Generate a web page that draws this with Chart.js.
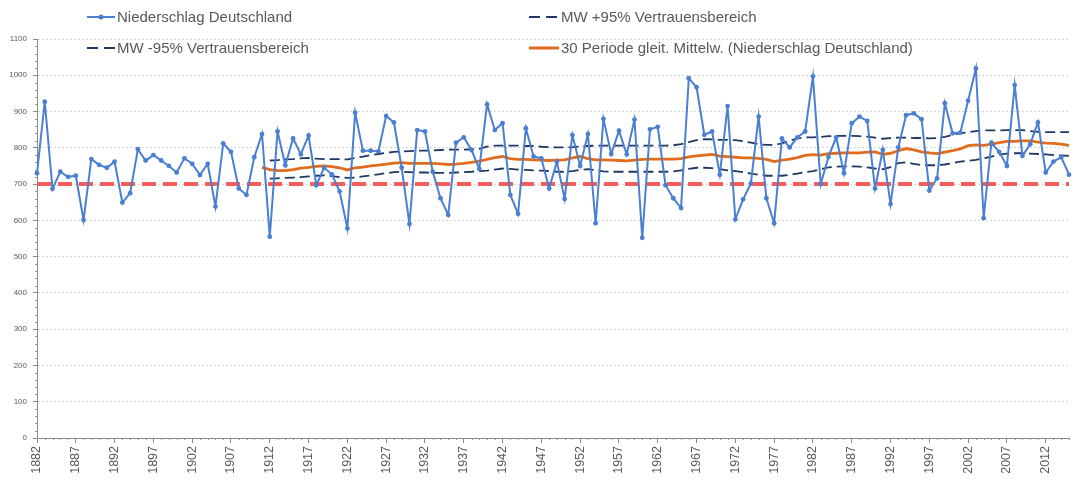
<!DOCTYPE html>
<html>
<head>
<meta charset="utf-8">
<script src="https://cdn.jsdelivr.net/npm/chart.js@4.4.1/dist/chart.umd.min.js"></script>
<style>
  body { margin: 0; background: #fff; }
  #wrap { position: relative; width: 1073px; height: 481px; }
  .leg {
    position: absolute; display: flex; align-items: center;
    font-family: "Liberation Sans", Arial, sans-serif; font-size: 15px;
    color: #595959; white-space: nowrap; line-height: 18px;
  }
  .leg svg { margin-right: 2px; }
</style>
</head>
<body>
<div id="wrap">
  <canvas id="chart"></canvas>
  <div class="leg" style="left:87px; top:8px;">
    <svg width="28" height="10"><line x1="0" y1="5" x2="28" y2="5" stroke="#4a7fd1" stroke-width="2"/><circle cx="14" cy="5" r="2.5" fill="#4a7fd1"/></svg>Niederschlag Deutschland
  </div>
  <div class="leg" style="left:529px; top:8px;">
    <svg width="30" height="10"><line x1="0" y1="5" x2="30" y2="5" stroke="#1f3864" stroke-width="2" stroke-dasharray="11,6"/></svg>MW +95% Vertrauensbereich
  </div>
  <div class="leg" style="left:87px; top:39px;">
    <svg width="28" height="10"><line x1="0" y1="5" x2="28" y2="5" stroke="#1f3864" stroke-width="2" stroke-dasharray="11,6"/></svg>MW -95% Vertrauensbereich
  </div>
  <div class="leg" style="left:529px; top:39px;">
    <svg width="30" height="10"><line x1="0" y1="5" x2="30" y2="5" stroke="#e06c1c" stroke-width="3"/></svg>30 Periode gleit. Mittelw. (Niederschlag Deutschland)
  </div>
</div>
<script>
// Jahre (Kategorien)
var years = [
  "1882","1883","1884","1885","1886","1887","1888","1889","1890","1891",
  "1892","1893","1894","1895","1896","1897","1898","1899","1900","1901",
  "1902","1903","1904","1905","1906","1907","1908","1909","1910","1911",
  "1912","1913","1914","1915","1916","1917","1918","1919","1920","1921",
  "1922","1923","1924","1925","1926","1927","1928","1929","1930","1931",
  "1932","1933","1934","1935","1936","1937","1938","1939","1940","1941",
  "1942","1943","1944","1945","1946","1947","1948","1949","1950","1951",
  "1952","1953","1954","1955","1956","1957","1958","1959","1960","1961",
  "1962","1963","1964","1965","1966","1967","1968","1969","1970","1971",
  "1972","1973","1974","1975","1976","1977","1978","1979","1980","1981",
  "1982","1983","1984","1985","1986","1987","1988","1989","1990","1991",
  "1992","1993","1994","1995","1996","1997","1998","1999","2000","2001",
  "2002","2003","2004","2005","2006","2007","2008","2009","2010","2011",
  "2012","2013","2014","2015"
];

// Niederschlag Deutschland (mm)
var niederschlag = [
  730, 927, 687, 734, 720, 723, 601, 769, 753, 745,
  762, 649, 675, 796, 765, 780, 765, 750, 732, 771,
  756, 725, 756, 638, 812, 789, 688, 670, 774, 838,
  555, 845, 752, 826, 782, 834, 697, 745, 727, 680,
  578, 897, 792, 792, 790, 888, 870, 745, 590, 849,
  845, 734, 661, 615, 814, 829, 794, 742, 920, 849,
  868, 670, 618, 854, 776, 771, 688, 762, 659, 835,
  750, 838, 592, 880, 783, 847, 782, 878, 552, 851,
  858, 697, 661, 634, 992, 967, 836, 845, 726, 915,
  603, 658, 702, 886, 661, 592, 826, 801, 829, 845,
  997, 700, 775, 829, 730, 868, 886, 874, 688, 794,
  645, 801, 890, 895, 879, 682, 716, 923, 840, 842,
  930, 1019, 606, 814, 789, 750, 973, 778, 810, 870,
  732, 762, 774, 726
];

// 30 Perioden gleitender Mittelwert, ab 1911
var maStartYear = 1911;
var gleitMittel = [
  746, 740, 737, 737, 740, 744, 746, 749, 750, 748,
  745, 739, 745, 747, 750, 752, 755, 758, 759, 757,
  757, 757, 757, 756, 754, 755, 757, 760, 763, 768,
  773, 776, 770, 768, 768, 767, 766, 765, 766, 767,
  772, 776, 770, 767, 767, 766, 765, 764, 766, 768,
  769, 769, 769, 769, 770, 775, 778, 780, 782, 777,
  776, 774, 772, 772, 771, 768, 762, 766, 769, 773,
  779, 781, 780, 784, 785, 786, 786, 786, 788, 789,
  782, 785, 792, 798, 794, 789, 786, 784, 788, 792,
  797, 806, 808, 807, 810, 814, 818, 818, 819, 819,
  816, 813, 812, 810, 807
];

// Vertrauensbereich, ab 1912
var bandStartYear = 1912;
var mwPlus95 = [
  765, 766, 768, 769, 771, 772, 770, 769, 769, 769, 768,
  772, 776, 780, 783, 786, 789,
  790, 791, 792, 792, 793, 794, 795, 795, 795, 796, 797,
  803, 806, 806, 806, 806, 805, 805, 803, 802, 801,
  801, 802, 804, 805, 806, 806, 806, 806, 806, 806, 806, 806, 806, 806, 807, 810,
  816, 821, 824, 823, 822, 822, 821,
  818, 814, 810, 808, 808, 812,
  820, 826, 829, 829,
  830, 832, 833, 833, 833, 832, 831,
  828, 825, 827, 828, 828,
  827, 827, 826, 827, 830, 836, 840,
  843, 846, 848, 848, 848, 849, 849, 849,
  846, 844, 843, 843, 843, 843
];
var mwMinus95 = [
  715, 716, 717, 718, 719, 721, 723, 724, 722, 719, 717,
  718, 721, 724, 727, 730, 733,
  734, 733, 732, 732, 731, 731, 731, 732, 733, 734, 736,
  737, 740, 743, 742, 740, 739, 738, 737, 736, 734,
  734, 736, 739, 741, 738, 735, 734, 734, 734, 734, 734, 734, 734, 734, 735, 738,
  742, 745, 745, 744, 741, 738, 736,
  733, 729, 726, 723, 723, 723,
  725, 729, 733, 736,
  741, 746, 748, 749, 749, 748, 746,
  743, 741, 747, 758, 760,
  756, 752, 752, 752, 754, 758, 762,
  764, 767, 771, 776, 781, 784, 785, 785,
  784, 783, 782, 780, 779, 778
];

var referenceLevel = 700;
var yTicks = [0, 1100, 100];

function fromYear(start, values) {
  return values.map(function (v, k) { return { x: String(start + k), y: v }; });
}

var refLine = {
  id: 'refLine',
  beforeDatasetsDraw: function (chart) {
    var ctx = chart.ctx, area = chart.chartArea;
    var py = chart.scales.y.getPixelForValue(referenceLevel);
    ctx.save();
    ctx.strokeStyle = '#f55d5d';
    ctx.lineWidth = 4;
    ctx.setLineDash([14, 7]);
    ctx.beginPath();
    ctx.moveTo(area.left, py);
    ctx.lineTo(area.right, py);
    ctx.stroke();
    ctx.restore();
  },
  afterDraw: function (chart) {
    // kleine Hilfsstriche an den Achsen
    var ctx = chart.ctx, x = chart.scales.x, y = chart.scales.y;
    ctx.save();
    ctx.strokeStyle = '#9a9a9a';
    ctx.lineWidth = 1;
    ctx.beginPath();
    for (var i = 0; i < years.length; i++) {
      if (i % 5 === 0) continue;
      var px = Math.round(x.getPixelForValue(i)) + 0.5;
      ctx.moveTo(px, y.bottom);
      ctx.lineTo(px, y.bottom + 2);
    }
    for (var v = 0; v <= yTicks[1]; v += 20) {
      if (v % 100 === 0) continue;
      var py = Math.round(y.getPixelForValue(v)) + 0.5;
      ctx.moveTo(x.left - 2, py);
      ctx.lineTo(x.left, py);
    }
    ctx.stroke();
    ctx.restore();
  }
};

var ctxL = document.getElementById('chart').getContext('2d');
var chart = new Chart(ctxL, {
  type: 'line',
  data: {
    labels: years,
    datasets: [{
      label: 'Niederschlag Deutschland',
      data: niederschlag,
      borderColor: '#4a7fd1',
      backgroundColor: '#4a7fd1',
      borderWidth: 2,
      pointRadius: 2.4,
      pointBorderWidth: 0,
      tension: 0
    }, {
      label: 'MW +95% Vertrauensbereich',
      data: fromYear(bandStartYear, mwPlus95),
      borderColor: '#1f3864',
      borderWidth: 1.8,
      borderDash: [10, 5],
      pointRadius: 0,
      tension: 0
    }, {
      label: 'MW -95% Vertrauensbereich',
      data: fromYear(bandStartYear, mwMinus95),
      borderColor: '#1f3864',
      borderWidth: 1.8,
      borderDash: [10, 5],
      pointRadius: 0,
      tension: 0
    }, {
      label: '30 Periode gleit. Mittelw. (Niederschlag Deutschland)',
      data: fromYear(maStartYear, gleitMittel),
      borderColor: '#e06c1c',
      borderWidth: 2.8,
      pointRadius: 0,
      tension: 0
    }]
  },
  options: {
    responsive: true,
    maintainAspectRatio: false,
    animation: false,
    layout: { padding: { top: 39, left: 0, right: 0, bottom: 0 } },
    plugins: {
      legend: { display: false },
      tooltip: { enabled: false }
    },
    scales: {
      x: {
        type: 'category',
        offset: false,
        border: { color: '#898989' },
        grid: {
          drawOnChartArea: false,
          tickLength: 5,
          tickColor: function (c) { return c.index % 5 === 0 ? '#898989' : 'rgba(0,0,0,0)'; }
        },
        ticks: {
          autoSkip: false,
          minRotation: 90,
          maxRotation: 90,
          padding: 3,
          color: '#595959',
          font: { family: 'Liberation Sans', size: 12.5 },
          callback: function (val, i) { return i % 5 === 0 ? this.getLabelForValue(val) : ''; }
        },
        afterFit: function (s) { s.height = 43; s.paddingLeft = 0; s.paddingRight = 0; }
      },
      y: {
        min: yTicks[0],
        max: yTicks[1],
        border: { color: '#898989', dash: [2, 2] },
        grid: {
          color: '#d6d6d6',
          tickLength: 4,
          tickColor: '#898989',
          tickBorderDash: []
        },
        ticks: {
          stepSize: yTicks[2],
          padding: 6,
          color: '#595959',
          font: { family: 'Liberation Sans', size: 8 },
          callback: function (val) { return String(val); }
        },
        afterFit: function (s) { s.width = 37; s.paddingTop = 0; s.paddingBottom = 0; }
      }
    }
  },
  plugins: [refLine]
});
</script>
</body>
</html>
